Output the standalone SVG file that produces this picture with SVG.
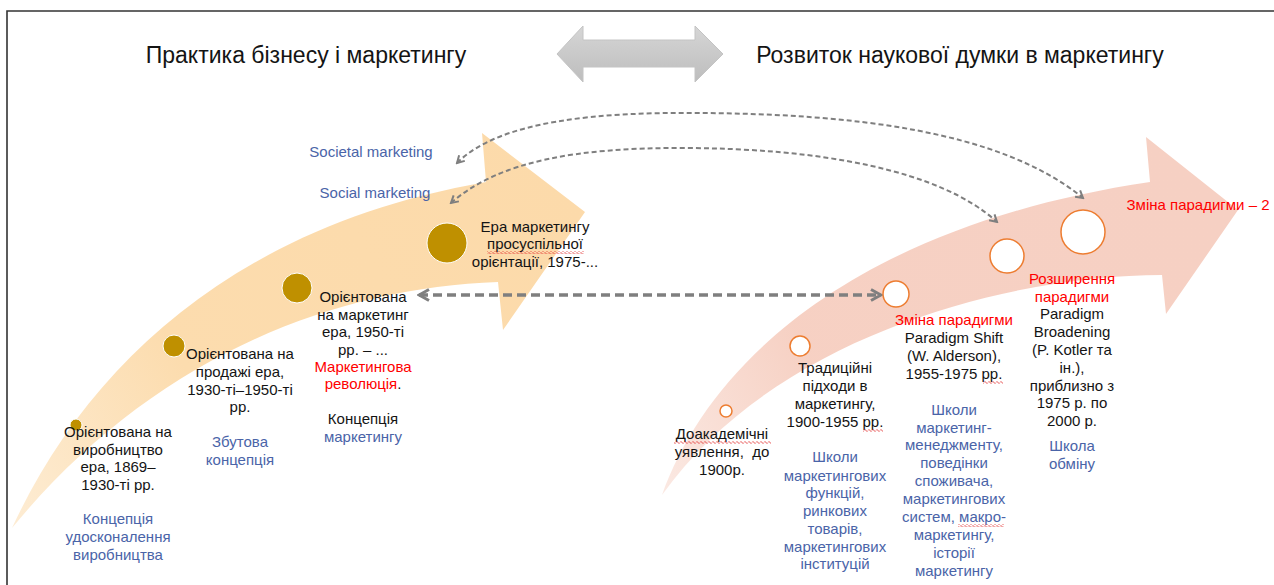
<svg xmlns="http://www.w3.org/2000/svg" width="1274" height="585" viewBox="0 0 1274 585">
<style>
  .t { font-family: "Liberation Sans", "DejaVu Sans", sans-serif; font-size: 15px; fill: #141414; text-anchor: middle; }
  .title { font-family: "Liberation Sans", "DejaVu Sans", sans-serif; font-size: 23px; fill: #141414; text-anchor: middle; }
  .b { fill: #4A64A8; }
  .r { fill: #FF0000; }
  .gold { fill: #BF9000; stroke: #ffffff; stroke-width: 1; }
  .ring { fill: #ffffff; stroke: #ED7D31; stroke-width: 1.5; }
  .dash { fill: none; stroke: #7F7F7F; stroke-width: 2; stroke-dasharray: 5 3; }
  .dashH { fill: none; stroke: #7F7F7F; stroke-width: 3.5; stroke-dasharray: 9 5; }
  .wave { fill: url(#wave); }
</style>
<defs>
  <linearGradient id="gL" x1="12" y1="528" x2="585" y2="212" gradientUnits="userSpaceOnUse">
    <stop offset="0" stop-color="#FCDDB0" stop-opacity="0.55"/>
    <stop offset="0.35" stop-color="#FCDCAE" stop-opacity="1"/>
    <stop offset="1" stop-color="#FCDAAA"/>
  </linearGradient>
  <linearGradient id="gR" x1="662" y1="495" x2="1238" y2="210" gradientUnits="userSpaceOnUse">
    <stop offset="0" stop-color="#F6CEC0" stop-opacity="0.45"/>
    <stop offset="0.3" stop-color="#F6CEC0" stop-opacity="0.95"/>
    <stop offset="1" stop-color="#F6D0C3"/>
  </linearGradient>
  <linearGradient id="gG" x1="0" y1="0" x2="0" y2="1">
    <stop offset="0" stop-color="#D6D6D6"/>
    <stop offset="1" stop-color="#BDBDBD"/>
  </linearGradient>
  <marker id="ah" viewBox="0 0 10 10" refX="8.5" refY="5" markerWidth="10" markerHeight="10" markerUnits="userSpaceOnUse" orient="auto-start-reverse">
    <path d="M1.5,1 L8.5,5 L1.5,9" fill="none" stroke="#7F7F7F" stroke-width="2"/>
  </marker>
  <marker id="ahB" viewBox="0 0 14 14" refX="12" refY="7" markerWidth="14" markerHeight="14" markerUnits="userSpaceOnUse" orient="auto-start-reverse">
    <path d="M2,1.5 L12,7 L2,12.5" fill="none" stroke="#7F7F7F" stroke-width="3"/>
  </marker>
  <pattern id="wave" width="4" height="3" patternUnits="userSpaceOnUse">
    <path d="M0,1.5 L1,0.5 L3,2.5 L4,1.5" fill="none" stroke="#E02020" stroke-width="0.8"/>
  </pattern>
</defs>

<rect width="1274" height="585" fill="#ffffff"/>
<path d="M7,585 V11 H1274" fill="none" stroke="#333333" stroke-width="1.6"/>

<g id="titles">
  <text class="title" x="306" y="63">Практика бізнесу і маркетингу</text>
  <text class="title" x="960" y="63">Розвиток наукової думки в маркетингу</text>
</g>

<g id="double-arrow">
  <path d="M557,54 L583,26 L583,40 L695,40 L695,26 L723,54 L695,82 L695,67 L583,67 L583,82 Z" fill="url(#gG)" stroke="#C4C4C4" stroke-width="1"/>
</g>

<g id="business-arrow">
  <path d="M12,528 C90,360 240,225 486,182 L482,133 L585,212 L503,330 L498,282 C330,288 150,360 12,528 Z" fill="url(#gL)"/>
</g>

<g id="science-arrow">
  <path d="M662,495 C710,360 860,225 1150,182 L1146,137 L1238,210 L1166,314 L1162,275 C1020,275 780,330 662,495 Z" fill="url(#gR)"/>
</g>

<g id="connectors">
  <path class="dashH" d="M419,295 L881,295" marker-start="url(#ahB)" marker-end="url(#ahB)"/>
  <path class="dash" d="M451,203 C500,160 580,148 680,148 C820,148 940,170 997,222" marker-start="url(#ah)" marker-end="url(#ah)"/>
  <path class="dash" d="M457,163 C500,120 600,112 700,113 C850,114 1000,130 1083,198" marker-start="url(#ah)" marker-end="url(#ah)"/>
</g>

<g id="node-production">
  <circle class="gold" cx="76" cy="425" r="6"/>
  <text class="t" x="118" y="437">Орієнтована на</text>
  <text class="t" x="118" y="455">виробництво</text>
  <text class="t" x="118" y="472">ера, 1869–</text>
  <text class="t" x="118" y="490">1930-ті рр.</text>
  <text class="t b" x="118" y="524">Концепція</text>
  <text class="t b" x="118" y="542">удосконалення</text>
  <text class="t b" x="118" y="560">виробництва</text>
</g>

<g id="node-sales">
  <circle class="gold" cx="174" cy="346" r="11"/>
  <text class="t" x="240" y="359">Орієнтована на</text>
  <text class="t" x="240" y="377">продажі ера,</text>
  <text class="t" x="240" y="395">1930-ті–1950-ті</text>
  <text class="t" x="240" y="412">рр.</text>
  <text class="t b" x="240" y="447">Збутова</text>
  <text class="t b" x="240" y="465">концепція</text>
</g>

<g id="node-marketing">
  <circle class="gold" cx="297" cy="288" r="15"/>
  <text class="t" x="363" y="302">Орієнтована</text>
  <text class="t" x="363" y="320">на маркетинг</text>
  <text class="t" x="363" y="337">ера, 1950-ті</text>
  <text class="t" x="363" y="355">рр. – ...</text>
  <text class="t r" x="363" y="372">Маркетингова</text>
  <text class="t" x="363" y="389"><tspan class="r">революція</tspan>.</text>
  <text class="t" x="363" y="424">Концепція</text>
  <text class="t b" x="363" y="442">маркетингу</text>
</g>

<g id="node-societal">
  <circle class="gold" cx="447" cy="243" r="20"/>
  <text class="t" x="535" y="232">Ера маркетингу</text>
  <text class="t" x="535" y="249">просуспільної</text>
  <rect class="wave" x="487" y="251" width="97" height="3"/>
  <text class="t" x="535" y="267">орієнтації, 1975-...</text>
  <text class="t b" x="371" y="157">Societal marketing</text>
  <text class="t b" x="375" y="198">Social marketing</text>
</g>

<g id="node-preacademic">
  <circle class="ring" cx="726" cy="411" r="6"/>
  <text class="t" x="722" y="439">Доакадемічні</text>
  <rect class="wave" x="674" y="441" width="97" height="3"/>
  <text class="t" x="722" y="457" xml:space="preserve">уявлення,  до</text>
  <text class="t" x="722" y="475">1900р.</text>
</g>

<g id="node-traditional">
  <circle class="ring" cx="800" cy="346" r="10"/>
  <text class="t" x="835" y="373">Традиційні</text>
  <text class="t" x="835" y="391">підходи в</text>
  <text class="t" x="835" y="409">маркетингу,</text>
  <text class="t" x="835" y="427">1900-1955 рр.</text>
  <rect class="wave" x="863" y="429" width="20" height="3"/>
  <text class="t b" x="835" y="462">Школи</text>
  <text class="t b" x="835" y="481">маркетингових</text>
  <text class="t b" x="835" y="498">функцій,</text>
  <text class="t b" x="835" y="516">ринкових</text>
  <text class="t b" x="835" y="534">товарів,</text>
  <text class="t b" x="835" y="552">маркетингових</text>
  <text class="t b" x="835" y="569">інституцій</text>
</g>

<g id="node-shift">
  <circle class="ring" cx="896" cy="294" r="13"/>
  <text class="t r" x="954" y="325">Зміна парадигми</text>
  <text class="t" x="954" y="343">Paradigm Shift</text>
  <text class="t" x="954" y="361">(W. Alderson),</text>
  <text class="t" x="954" y="379">1955-1975 рр.</text>
  <rect class="wave" x="983" y="381" width="20" height="3"/>
  <text class="t b" x="954" y="415">Школи</text>
  <text class="t b" x="954" y="433">маркетинг-</text>
  <text class="t b" x="954" y="450">менеджменту,</text>
  <text class="t b" x="954" y="468">поведінки</text>
  <text class="t b" x="954" y="486">споживача,</text>
  <text class="t b" x="954" y="504">маркетингових</text>
  <text class="t b" x="954" y="522">систем, макро-</text>
  <rect class="wave" x="958" y="524" width="46" height="3"/>
  <text class="t b" x="954" y="540">маркетингу,</text>
  <text class="t b" x="954" y="558">історії</text>
  <text class="t b" x="954" y="576">маркетингу</text>
</g>

<g id="node-broadening">
  <circle class="ring" cx="1007" cy="256" r="17"/>
  <text class="t r" x="1072" y="284">Розширення</text>
  <text class="t r" x="1072" y="302">парадигми</text>
  <text class="t" x="1072" y="319">Paradigm</text>
  <text class="t" x="1072" y="337">Broadening</text>
  <text class="t" x="1072" y="355">(P. Kotler та</text>
  <text class="t" x="1072" y="373">ін.),</text>
  <text class="t" x="1072" y="391">приблизно з</text>
  <text class="t" x="1072" y="408">1975 р. по</text>
  <text class="t" x="1072" y="426">2000 р.</text>
  <text class="t b" x="1072" y="451">Школа</text>
  <text class="t b" x="1072" y="469">обміну</text>
</g>

<g id="node-shift2">
  <circle class="ring" cx="1083" cy="232" r="22"/>
  <text class="t r" x="1198" y="210">Зміна парадигми – 2</text>
</g>
</svg>
